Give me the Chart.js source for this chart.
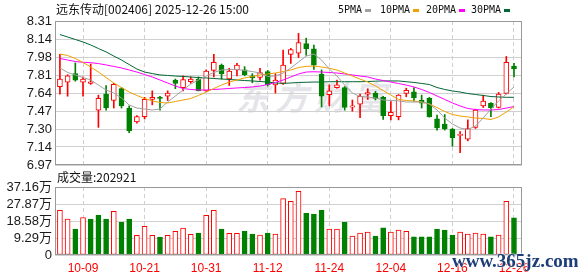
<!DOCTYPE html>
<html>
<head>
<meta charset="utf-8">
<script src="https://cdn.jsdelivr.net/npm/chart.js@4.4.1/dist/chart.umd.min.js"></script>
<style>
  body { margin: 0; background: #fff; width: 578px; height: 276px; overflow: hidden; position: relative;
         font-family: "Noto Sans CJK SC", "Liberation Sans", sans-serif; }
  canvas { position: absolute; left: 0; top: 0; z-index: 2; }
  .txt { position: absolute; white-space: nowrap; font-size: 12px; line-height: 14px; color: #111; z-index: 3; }
  .leg { font-family: "DejaVu Sans Mono", monospace; font-size: 10px; top: 3px; }
  .leg i { display: inline-block; width: 6px; height: 3px; margin-left: 3px; vertical-align: middle; }
  #wm { position: absolute; left: 236px; top: 72px; z-index: 1; font-size: 33px; font-weight: bold;
        font-style: italic; color: rgba(180, 180, 192, 0.35); letter-spacing: 6px; white-space: nowrap; }
  #site { position: absolute; left: 452px; top: 250px; z-index: 4; font-family: "Liberation Serif", serif;
          font-size: 19px; font-weight: bold; color: #1d3d78; white-space: nowrap;
          text-shadow: 0 0 2px #fff, 0 0 2px #fff; }
</style>
</head>
<body>
<div class="txt" style="left:56px;top:2px;">远东传动[002406] 2025-12-26 15:00</div>
<div class="txt leg" style="left:338px;">5PMA<i style="background:#a0a0a0"></i></div>
<div class="txt leg" style="left:380px;">10PMA<i style="background:#f0a000"></i></div>
<div class="txt leg" style="left:426px;">20PMA<i style="background:#ff00ff"></i></div>
<div class="txt leg" style="left:471px;">30PMA<i style="background:#006633"></i></div>
<div class="txt" style="left:57px;top:170px;">成交量:202921</div>
<div id="wm">东方财富</div>
<div id="site">www.365jz.com</div>
<canvas id="priceChart" width="578" height="276"></canvas>
<canvas id="volChart" width="578" height="276"></canvas>
<script>
// trading days shown (09-26 .. 12-26)
const dates = ['09-26','09-29','09-30','10-09','10-10','10-13','10-14','10-15','10-16','10-17',
  '10-20','10-21','10-22','10-23','10-24','10-27','10-28','10-29','10-30','10-31',
  '11-03','11-04','11-05','11-06','11-07','11-10','11-11','11-12','11-13','11-14',
  '11-17','11-18','11-19','11-20','11-21','11-24','11-25','11-26','11-27','11-28',
  '12-01','12-02','12-03','12-04','12-05','12-08','12-09','12-10','12-11','12-12',
  '12-15','12-16','12-17','12-18','12-19','12-22','12-23','12-24','12-25','12-26'];
const dateTickIdx = [3, 11, 19, 27, 35, 43, 51, 59];

const opens = [7.70,7.74,7.82,7.74,7.73,7.48,7.63,7.57,7.68,7.50,
  7.37,7.42,7.58,7.60,7.61,7.76,7.69,7.745,7.77,7.66,
  7.85,7.90,7.77,7.855,7.855,7.80,7.785,7.84,7.715,7.73,
  8.00,8.01,8.10,8.05,7.815,7.625,7.69,7.69,7.507,7.535,
  7.63,7.64,7.60,7.43,7.42,7.635,7.65,7.575,7.59,7.40,
  7.35,7.305,7.245,7.21,7.32,7.52,7.545,7.505,7.635,7.89];
const highs = [8.00,7.81,7.92,7.79,7.91,7.62,7.71,7.73,7.69,7.52,
  7.43,7.60,7.66,7.61,7.66,7.77,7.80,7.79,7.79,7.855,
  8.00,7.91,7.87,7.915,7.885,7.82,7.87,7.85,7.82,8.04,
  8.055,8.195,8.15,8.085,7.855,7.715,7.76,7.70,7.575,7.63,
  7.68,7.655,7.61,7.56,7.625,7.685,7.69,7.62,7.60,7.435,
  7.44,7.31,7.28,7.39,7.49,7.62,7.55,7.645,7.98,7.915];
const lows = [7.63,7.61,7.75,7.61,7.72,7.32,7.48,7.50,7.50,7.27,
  7.36,7.40,7.53,7.48,7.57,7.68,7.66,7.73,7.66,7.655,
  7.79,7.77,7.71,7.80,7.80,7.735,7.76,7.705,7.64,7.72,
  7.915,7.97,7.99,7.86,7.51,7.52,7.685,7.48,7.47,7.41,
  7.58,7.575,7.395,7.39,7.39,7.605,7.565,7.50,7.415,7.295,
  7.295,7.145,7.085,7.195,7.31,7.505,7.42,7.50,7.63,7.79];
const closes = [7.77,7.80,7.76,7.77,7.745,7.59,7.50,7.72,7.52,7.29,
  7.42,7.58,7.60,7.59,7.64,7.73,7.765,7.77,7.66,7.845,
  7.925,7.82,7.845,7.90,7.81,7.78,7.83,7.715,7.76,7.90,
  8.045,8.11,8.05,7.90,7.61,7.66,7.715,7.505,7.52,7.61,
  7.645,7.59,7.43,7.46,7.62,7.665,7.595,7.545,7.42,7.315,
  7.305,7.225,7.255,7.31,7.48,7.565,7.50,7.63,7.925,7.865];

const ma5 = [7.873,7.831,7.808,7.784,7.761,7.714,7.668,7.640,7.593,7.528,
  7.500,7.491,7.482,7.491,7.556,7.612,7.668,7.724,7.761,7.798,
  7.831,7.854,7.859,7.859,7.849,7.840,7.826,7.794,7.798,7.826,
  7.873,7.928,7.984,8.003,7.947,7.863,7.798,7.714,7.640,7.607,
  7.603,7.593,7.575,7.570,7.566,7.556,7.556,7.556,7.538,7.482,
  7.407,7.351,7.314,7.300,7.333,7.407,7.491,7.566,7.631,7.696];
const ma10 = [8.003,7.989,7.961,7.924,7.882,7.835,7.784,7.733,7.691,7.649,
  7.617,7.589,7.566,7.552,7.547,7.561,7.575,7.589,7.617,7.649,
  7.682,7.714,7.742,7.761,7.780,7.794,7.808,7.817,7.826,7.840,
  7.854,7.877,7.888,7.891,7.882,7.870,7.854,7.826,7.798,7.770,
  7.742,7.705,7.663,7.621,7.580,7.570,7.566,7.556,7.538,7.505,
  7.468,7.440,7.426,7.417,7.407,7.403,7.393,7.417,7.463,7.513];
const ma20 = [7.961,7.947,7.933,7.926,7.922,7.914,7.901,7.887,7.873,7.854,
  7.835,7.812,7.789,7.761,7.733,7.705,7.682,7.673,7.668,7.668,
  7.673,7.677,7.682,7.687,7.691,7.696,7.705,7.719,7.738,7.761,
  7.789,7.817,7.835,7.838,7.835,7.831,7.826,7.817,7.808,7.798,
  7.789,7.770,7.756,7.742,7.728,7.714,7.696,7.673,7.645,7.612,
  7.580,7.547,7.519,7.496,7.486,7.482,7.482,7.486,7.500,7.514];
const ma30 = [8.184,8.161,8.138,8.115,8.087,8.054,8.022,7.984,7.947,7.905,
  7.863,7.835,7.821,7.808,7.803,7.798,7.794,7.789,7.784,7.780,
  7.775,7.770,7.766,7.761,7.756,7.752,7.747,7.742,7.733,7.730,
  7.733,7.738,7.740,7.742,7.742,7.745,7.745,7.745,7.745,7.745,
  7.747,7.750,7.752,7.752,7.752,7.745,7.738,7.729,7.719,7.691,
  7.673,7.659,7.649,7.635,7.626,7.617,7.607,7.603,7.600,7.600];

// volume in 万
const volumes = [24.4,19.6,14.1,20.5,19.6,21.7,19.6,23.9,17.9,19.6,
  10.7,15.6,10.7,9.8,10.7,12.9,14.7,11.3,12.0,21.7,
  24.4,14.1,11.8,11.8,13.0,11.4,10.9,12.0,11.4,30.8,
  29.3,34.8,22.8,22.3,24.4,14.1,14.1,17.9,10.3,12.0,
  12.5,10.3,14.8,12.5,13.6,13.0,9.9,9.9,9.9,14.1,
  13.6,10.9,12.5,11.4,12.0,11.4,9.9,10.9,29.3,20.29];

const priceTicks = [6.97, 7.1375, 7.305, 7.4725, 7.64, 7.8075, 7.975, 8.1425, 8.31];
const priceTickLabels = ['6.97','7.14','7.30','7.47','7.64','7.81','7.98','8.14','8.31'];
const volTicks = [0, 9.29, 18.58, 27.87, 37.16];
const volTickLabels = ['0','9.29万','18.58万','27.87万','37.16万'];

const RED = '#ff0000', GREEN = '#008000';
const candleUp = closes.map((c, i) => c >= opens[i]);
const volUp = closes.map((c, i) => i === 0 || c >= closes[i - 1]);

Chart.defaults.font.family = '"Liberation Sans", Arial, "Noto Sans CJK SC", sans-serif';
Chart.defaults.animation = false;

const frame = {
    id: 'frame',
    afterDraw(chart) {
        const { ctx, chartArea: a } = chart;
        ctx.save();
        ctx.strokeStyle = '#999';
        ctx.lineWidth = 1;
        ctx.strokeRect(Math.round(a.left) + 0.5, Math.round(a.top) + 0.5,
            Math.round(a.right - a.left) - 1, Math.round(a.bottom - a.top) - 1);
        ctx.restore();
    }
};

function xScale(showLabels) {
    return {
        type: 'linear', min: -0.64, max: 60.04, offset: false,
        afterBuildTicks: s => { s.ticks = dateTickIdx.map(v => ({ value: v })); },
        afterFit: s => { s.height = showLabels ? 21 : 0; },
        grid: { color: '#cfcfcf', drawTicks: false, offset: false },
        border: { display: false, dash: [4, 3] },
        ticks: {
            display: showLabels, autoSkip: false, maxRotation: 0, padding: 6,
            color: RED, font: { size: 12 },
            callback: v => dates[v]
        }
    };
}

function yScale(min, max, tickVals, tickLabels) {
    return {
        min: min, max: max,
        afterBuildTicks: s => { s.ticks = tickVals.map(v => ({ value: v })); },
        afterFit: s => { s.width = 55; },
        grid: { color: '#d0d0d0', drawTicks: false },
        border: { display: false },
        ticks: { color: '#1a1a1a', font: { size: 13 }, padding: 3, autoSkip: false,
                 callback: (v, i) => tickLabels[i] }
    };
}

const xy = arr => arr.map((v, i) => ({ x: i, y: v }));
const maLine = (data, color) => ({
    type: 'line', data: xy(data), borderColor: color, borderWidth: 1,
    pointRadius: 0, fill: false, tension: 0, order: 0
});

new Chart(document.getElementById('priceChart'), {
    type: 'bar',
    data: {
        datasets: [
            maLine(ma5, '#a0a0a0'),
            maLine(ma10, '#f0a000'),
            maLine(ma20, '#ff00ff'),
            maLine(ma30, '#006633'),
            {
                // bodies
                data: opens.map((o, i) => ({ x: i, y: [o, closes[i]] })),
                grouped: false, barThickness: 5, minBarLength: 1,
                backgroundColor: candleUp.map(u => u ? '#ffffff' : GREEN),
                borderColor: candleUp.map(u => u ? RED : GREEN),
                borderWidth: 1, borderSkipped: false, order: 1
            },
            {
                // wicks
                data: lows.map((l, i) => ({ x: i, y: [l, highs[i]] })),
                grouped: false, barThickness: 1,
                backgroundColor: candleUp.map(u => u ? RED : GREEN),
                borderWidth: 0, order: 2
            }
        ]
    },
    options: {
        responsive: false,
        devicePixelRatio: 1,
        layout: { padding: { left: 0, right: 56, top: 21, bottom: 111 } },
        plugins: { legend: { display: false }, tooltip: { enabled: false } },
        scales: {
            x: xScale(false),
            y: yScale(6.97, 8.31, priceTicks, priceTickLabels)
        }
    },
    plugins: [frame]
});

new Chart(document.getElementById('volChart'), {
    type: 'bar',
    data: {
        datasets: [{
            data: xy(volumes),
            grouped: false, barThickness: 5,
            backgroundColor: volUp.map(u => u ? '#ffffff' : GREEN),
            borderColor: volUp.map(u => u ? RED : GREEN),
            borderWidth: 1, borderSkipped: false
        }]
    },
    options: {
        responsive: false,
        devicePixelRatio: 1,
        layout: { padding: { left: 0, right: 56, top: 187, bottom: 0 } },
        plugins: { legend: { display: false }, tooltip: { enabled: false } },
        scales: {
            x: xScale(true),
            y: yScale(0, 37.16, volTicks, volTickLabels)
        }
    },
    plugins: [frame]
});
</script>
</body>
</html>
